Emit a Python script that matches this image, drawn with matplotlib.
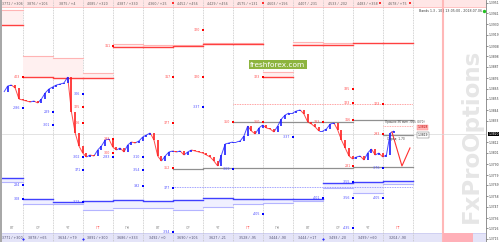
import numpy as np
import matplotlib
matplotlib.use("Agg")
import matplotlib.pyplot as plt
from matplotlib.patches import Rectangle
from matplotlib.collections import LineCollection
import matplotlib.transforms as mtransforms

plt.rcParams['font.family'] = ['DejaVu Sans']

# ---------------- data ----------------
# time axis in hours from the start of the first full day column
bar_hours = list(range(-15, 298, 3))
closes = [
    1.3862, 1.3868, 1.3869, 1.3866, 1.3855, 1.3854, 1.3853, 1.3852, 1.3853, 1.3851,
    1.3855, 1.3861, 1.3865, 1.3867, 1.3869, 1.3870, 1.3871, 1.3877, 1.3842, 1.3821,
    1.3808, 1.3801, 1.3797, 1.3799, 1.3798, 1.3804, 1.3808, 1.3814, 1.3815, 1.3807,
    1.3804, 1.3806, 1.3802, 1.3809, 1.3812, 1.3811, 1.3813, 1.3817, 1.3819, 1.3821,
    1.3814, 1.3798, 1.3793, 1.3798, 1.3802, 1.3803, 1.3802, 1.3803, 1.3799, 1.3802,
    1.3804, 1.3803, 1.3802, 1.3801, 1.3799, 1.3797, 1.3793, 1.3788, 1.3799, 1.3810,
    1.3811, 1.3812, 1.3812, 1.3813, 1.3818, 1.3828, 1.3823, 1.3820, 1.3826, 1.3829,
    1.3826, 1.3825, 1.3822, 1.3828, 1.3835, 1.3839, 1.3841, 1.3841, 1.3843, 1.3844,
    1.3840, 1.3832, 1.3830, 1.3827, 1.3823, 1.3823, 1.3825, 1.3830, 1.3831, 1.3824,
    1.3814, 1.3806, 1.3798, 1.3795, 1.3797, 1.3798, 1.3794, 1.3801, 1.3805, 1.3799,
    1.3801, 1.3797, 1.3799, 1.3821, 1.3823]

# day columns (hours)
col_start = [-17, 0, 24, 48, 72, 96, 120, 144, 168, 192, 216, 240, 264, 288]
col_end = [0, 24, 48, 72, 96, 120, 144, 168, 192, 216, 240, 264, 288, 312]
weekdays = ["ВТ", "СР", "ЧТ", "ПТ", "ПН", "ВТ", "СР", "ЧТ", "ПТ", "ПН", "ВТ", "СР", "ЧТ", "ПТ"]
top_labels = ["3772 / +306", "3876 / +106", "3875 / +4", "4085 / +320", "4387 / +330",
              "4360 / +25", "4452 / +456", "4429 / +456", "4575 / +131", "4603 / +156",
              "4407 / -231", "4533 / -202", "4483 / +358", "4678 / +75"]
bottom_labels = ["3771 / +300", "3878 / +65", "3634 / +79", "3891 / +300", "3686 / +333",
                 "3492 / +0", "3690 / +106", "3627 / -21", "3528 / -95", "3444 / -90",
                 "3444 / +17", "3493 / -20", "3499 / +60", "3204 / -90"]

red_lvl = [1.3929, 1.3877, 1.3876, 1.3876, 1.3907, 1.3907, 1.3908, 1.3910, 1.3910,
           1.3877, 1.3909, 1.3909, 1.3911, 1.3911]
pink_lvl = [1.3944, 1.3898, 1.3896, 1.3881, 1.3910, 1.3909, 1.3909, 1.3911, 1.3911,
            1.3882, 1.3912, 1.3911, np.nan, np.nan]
blue_lvl = [1.3776, 1.3755, 1.3752, 1.3753, 1.3754, 1.3753, 1.3754, 1.3756, 1.3755,
            1.3755, 1.3755, 1.3771, 1.3772, 1.3773]
lblue_lvl = [1.3772, 1.3750, 1.3750, 1.3744, 1.3746, 1.3746, 1.3744, 1.3747, 1.3750,
             1.3751, 1.3753, 1.3766, 1.3761, 1.3770]

gray_seg_start = [168, 264, 120, 144, 264, 288]
gray_seg_end = [264, 312, 144, 264, 312, 312]
gray_seg_price = [1.3832, 1.3834, 1.3785, 1.3786, 1.3787, 1.3819]

red_dot_level = (168, 312, 1.3850)
blue_dot_level = (120, 312, 1.3767)
pink_dot_level = (288, 312, 1.3828)

red_mk_h = [0, 48, 48, 72, 72, 72, 120, 120, 120, 144, 144, 168, 192, 192, 240, 264, 264, 264, 264, 288, 288]
red_mk_p = [1.3877, 1.3847, 1.3831, 1.3908, 1.3815, 1.3801, 1.3877, 1.3831, 1.3786, 1.3924,
            1.3877, 1.3832, 1.3832, 1.3877, 1.3832, 1.3865, 1.3851, 1.3834, 1.3788, 1.3820, 1.3850]
red_mk_lab = ["403", "325", "306", "311", "293", "300", "317", "377", "352", "320", "320",
              "350", "360", "323", "333", "335", "323", "316", "281", "293", "323"]

blue_mk_h = [0, 24, 24, 48, 48, 72, 96, 144, 216, 168, 0, 0, 48, 48, 96, 96, 120, 120, 192,
             240, 264, 264, 288, 264, 288]
blue_mk_p = [1.3846, 1.3842, 1.3829, 1.3860, 1.3797, 1.3797, 1.3797, 1.3847, 1.3817, 1.3785,
             1.3769, 1.3755, 1.3784, 1.3752, 1.3784, 1.3768, 1.3766, 1.3722, 1.3740,
             1.3756, 1.3772, 1.3756, 1.3756, 1.3726, 1.3786]
blue_mk_lab = ["-286", "289", "-301", "306", "-302", "-283", "-310", "-337", "-337", "-369",
               "284", "308", "371", "-313", "-354", "392", "377", "-394", "-405",
               "-401", "-355", "-356", "-405", "-435", "-376"]

proj_h = [295.4, 303.4, 309.8]
proj_p = [1.3822, 1.3788, 1.3806]

current_price = 1.3820
tick_labels = ["1.3951", "1.3941", "1.3930", "1.3919", "1.3908", "1.3898", "1.3887",
               "1.3876", "1.3865", "1.3855", "1.3844", "1.3833", "1.3812", "1.3801",
               "1.3790", "1.3779", "1.3769", "1.3758", "1.3747", "1.3736", "1.3726", "1.3715"]

# ---------------- figure ----------------
fig = plt.figure(figsize=(5.0, 2.42), dpi=100)
fig.patch.set_facecolor('white')
ax = fig.add_axes([2 / 500, 0, 484 / 500, 1])
XMIN, XMAX = -16.56, 370.64
YMIN, YMAX = 1.3712, 1.3954
ax.set_xlim(XMIN, XMAX)
ax.set_ylim(YMIN, YMAX)
fig.patches.append(Rectangle((0, 0), 2 / 500, 1, transform=fig.transFigure,
                             facecolor='#a8a8a8', edgecolor='none'))

# bands
ax.add_patch(Rectangle((0, 1 - 7 / 242), 1, 7 / 242, transform=ax.transAxes,
                       facecolor='#ffe6e6', edgecolor='none', zorder=0))
ax.axhline(YMAX - 0.0007, color='#ffb8b8', lw=0.6, zorder=1)
ax.add_patch(Rectangle((0, 0), 1, 9 / 242, transform=ax.transAxes,
                       facecolor='#e4e4f8', edgecolor='none', zorder=0))
ax.axhline(YMIN + 0.0009, color='#c8c8f0', lw=0.5, zorder=1)

# watermark
ax.text((471 - 2) / 484, 0.44, "FxProOptions", transform=ax.transAxes,
        rotation=90, fontsize=16.5, fontweight='bold', color='#e6e6e6',
        ha='center', va='center', zorder=0)

# day separators
for k in range(14):
    ax.axvline(24 * k, color='#c4c4c4', lw=0.6, ls=(0, (1, 1)), zorder=1)
ax.axvline(336, color='#ffb8b8', lw=1.5, zorder=1)
ax.add_patch(Rectangle((336, YMIN), 24, 0.0009, facecolor='#ffb0b8', edgecolor='none', zorder=1))

# current price line
ax.axhline(current_price, color='#d8d8d8', lw=0.5, zorder=1)

# top / bottom level bands
for i in range(len(col_start)):
    a, b = col_start[i], col_end[i]
    if not np.isnan(pink_lvl[i]):
        ax.fill_between([a, b], red_lvl[i], pink_lvl[i], color='#fff0f0', lw=0, zorder=1)
        ax.plot([a, b], [pink_lvl[i]] * 2, color='#ffb4b4', lw=0.8, zorder=2)
    ax.plot([a, b], [red_lvl[i]] * 2, color='#ff4040', lw=1.0, zorder=2)
    ax.fill_between([a, b], blue_lvl[i], lblue_lvl[i], color='#f0f0ff', lw=0, zorder=1)
    ax.plot([a, b], [lblue_lvl[i]] * 2, color='#b4b4ff', lw=0.8, zorder=2)
    ax.plot([a, b], [blue_lvl[i]] * 2, color='#4040ff', lw=1.0, zorder=2)
    cx = (max(a, XMIN) + b) / 2
    ax.text(cx, YMAX - 0.00035, top_labels[i], fontsize=2.3, color='#606060',
            ha='center', va='center', zorder=3)
    ax.text(cx, YMIN + 0.0004, bottom_labels[i], fontsize=2.3, color='#505070',
            ha='center', va='center', zorder=3)
    ax.text(cx, YMIN + 0.0014, weekdays[i], fontsize=2.5,
            color='#ff6060' if weekdays[i] == "ПТ" else '#909090',
            ha='center', va='center', zorder=3)

for a, b, p in zip(gray_seg_start, gray_seg_end, gray_seg_price):
    ax.plot([a, b], [p, p], color='#909090', lw=0.9, zorder=2)
ax.plot(red_dot_level[:2], [red_dot_level[2]] * 2, color='#ff8080', lw=0.6, ls=(0, (1, 1)), zorder=2)
ax.plot(blue_dot_level[:2], [blue_dot_level[2]] * 2, color='#8080ff', lw=0.6, ls=(0, (1, 1)), zorder=2)
ax.plot(pink_dot_level[:2], [pink_dot_level[2]] * 2, color='#ff9090', lw=0.6, ls=(0, (1, 1)), zorder=2)

# candles: thin links plus bodies from previous close to close
t = np.array(bar_hours, dtype=float)
c = np.array(closes)
segs, cols = [], []
for i in range(1, len(c)):
    segs.append([(t[i - 1], c[i - 1]), (t[i], c[i])])
    cols.append('#1e1eff' if c[i] >= c[i - 1] else '#ff2020')
ax.add_collection(LineCollection(segs, colors=cols, linewidths=0.7, alpha=0.8, zorder=4))
ax.vlines(t[1:], c[:-1], c[1:], colors=cols, linewidths=1.2, zorder=4)

# projection
ax.plot(proj_h, proj_p, color='#ff3030', lw=0.8, zorder=4)

# markers
ax.scatter(red_mk_h, red_mk_p, marker='s', s=2.5, color='#ff0000', lw=0, zorder=5)
ax.scatter(blue_mk_h, blue_mk_p, marker='s', s=2.5, color='#0000ff', lw=0, zorder=5)
for h, p, lab in zip(red_mk_h, red_mk_p, red_mk_lab):
    ax.annotate(lab, (h, p), xytext=(-1.5, 0), textcoords='offset points', fontsize=2.3,
                color='#ff5050', ha='right', va='center', zorder=5)
for h, p, lab in zip(blue_mk_h, blue_mk_p, blue_mk_lab):
    ax.annotate(lab, (h, p), xytext=(-1.5, 0), textcoords='offset points', fontsize=2.3,
                color='#5050ff', ha='right', va='center', zorder=5)

# top markers
ax.scatter([120, 192, 286, 310], [YMAX - 0.00025] * 4, marker='s', s=2, color='#ff3030', lw=0, zorder=5)
ax.scatter([0, 48, 240], [YMIN + 0.0003] * 3, marker='D', s=2, color='#3030ff', lw=0, zorder=5)

# info texts
ax.text(289.5, 1.38325, "Прошло 36 мин , 065 (070)", fontsize=2.1, color='#404040',
        ha='left', va='center', zorder=6)
ax.text(291.4, 1.3815, "Спред: 1.70", fontsize=2.1, color='#404040', ha='left', va='center', zorder=6)
ax.text(320, 1.38265, "1.3828", fontsize=2.2, color='#c00000', ha='center', va='center', zorder=6,
        bbox=dict(boxstyle='square,pad=0.2', fc='#ffb8b8', ec='#ff8080', lw=0.3))
ax.text(320, 1.3819, "1.3819", fontsize=2.2, color='#202020', ha='center', va='center', zorder=6,
        bbox=dict(boxstyle='square,pad=0.2', fc='white', ec='#606060', lw=0.3))
ax.text(0.9915, 1 - 11 / 242, "Bands 1.3 , 10 | 13:05:00 , 2018.07.06", transform=ax.transAxes,
        fontsize=2.3, color='#404040', ha='right', va='center', zorder=6)
ax.scatter([(484 - 2) / 484], [1 - 11 / 242], transform=ax.transAxes, s=2, color='#20c020', zorder=6)

# freshforex box
ax.text((278 - 22.7) / 1.25, 1.3954 - 64.5 / 10000, "freshforex.com", fontsize=5.3, color='white',
        ha='center', va='center', zorder=6,
        bbox=dict(boxstyle='square,pad=0.25', fc='#8db43e', ec='none'))

# price axis
tick_vals = [float(s) for s in tick_labels]
ax.yaxis.tick_right()
ax.set_yticks(tick_vals)
ax.set_yticklabels(tick_labels)
ax.tick_params(axis='y', labelsize=2.2, length=1.2, width=0.4, pad=0.6, colors='#404040')
ax.set_xticks([])
for s in ['top', 'left', 'bottom']:
    ax.spines[s].set_visible(False)
ax.spines['right'].set_color('#808080')
ax.spines['right'].set_linewidth(0.6)
trans = mtransforms.blended_transform_factory(ax.transAxes, ax.transData)
ax.text(1.005, current_price, "1.3820", transform=trans, fontsize=2.2, color='white',
        ha='left', va='center', clip_on=False, zorder=7,
        bbox=dict(boxstyle='square,pad=0.15', fc='black', ec='none'))

fig.savefig("out.png", dpi=100, facecolor='white')
